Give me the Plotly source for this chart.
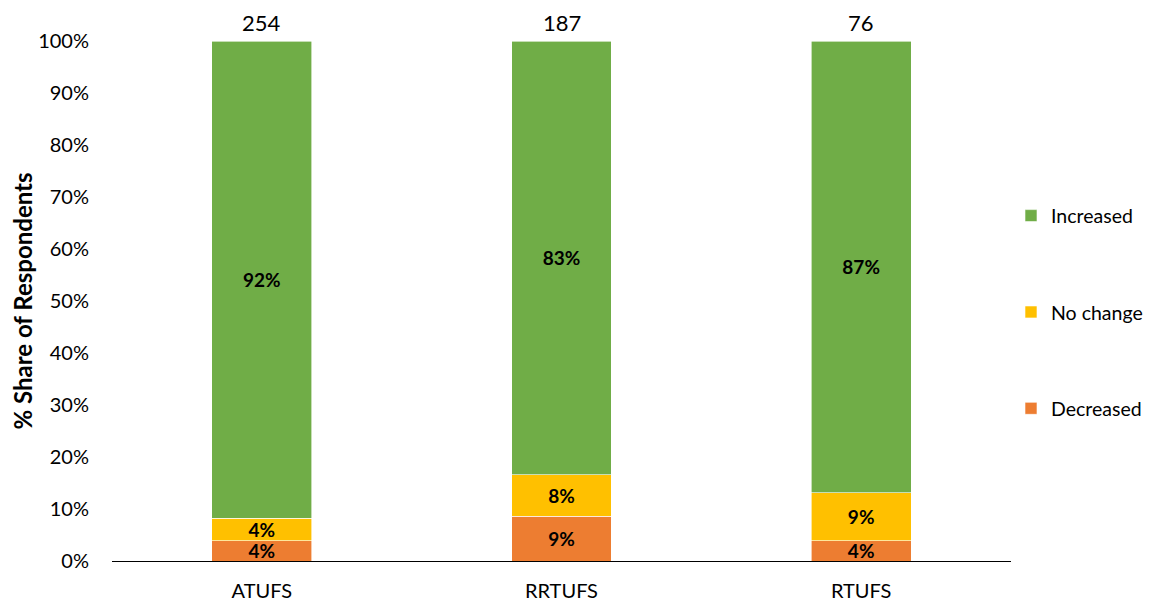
import plotly.graph_objects as go

categories = ["ATUFS", "RRTUFS", "RTUFS"]
totals = [254, 187, 76]
decreased = [3.9, 8.6, 3.9]
no_change = [4.3, 8.0, 9.2]
increased = [91.8, 83.4, 86.9]
dec_labels = ["4%", "9%", "4%"]
nc_labels = ["4%", "8%", "9%"]
inc_labels = ["92%", "83%", "87%"]

FONT = "Lato, 'Open Sans', sans-serif"

fig = go.Figure()
series = [
    ("Decreased", decreased, dec_labels, "#ED7D31", 3),
    ("No change", no_change, nc_labels, "#FFC000", 2),
    ("Increased", increased, inc_labels, "#70AD47", 1),
]
for name, vals, labels, color, rank in series:
    fig.add_trace(go.Bar(
        name=name, x=categories, y=vals, text=labels,
        texttemplate="<b>%{text}</b>", textposition="inside",
        insidetextanchor="middle", constraintext="none",
        textfont=dict(size=19, color="black", family=FONT),
        marker=dict(color=color, line=dict(color="white", width=0.6)),
        legendgroup=name, legendrank=rank, width=0.333,
    ))

for c, t in zip(categories, totals):
    fig.add_annotation(x=c, y=100, text=str(t), showarrow=False,
                       yanchor="bottom", yshift=3,
                       font=dict(size=22, color="black", family=FONT))

fig.update_layout(
    barmode="stack",
    width=1151, height=595,
    margin=dict(l=104, r=148, t=33, b=42, autoexpand=False),
    plot_bgcolor="white", paper_bgcolor="white",
    font=dict(family=FONT, color="black"),
    bargap=0.667,
    legend=dict(x=1.0, y=0.478, xanchor="left", yanchor="middle",
                traceorder="grouped", tracegroupgap=68,
                font=dict(size=19.5, family=FONT)),
    xaxis=dict(showline=True, linecolor="black", linewidth=1,
               ticks="outside", ticklen=12, tickcolor="rgba(0,0,0,0)",
               tickfont=dict(size=20), showgrid=False,
               range=[-0.5, 2.5]),
    yaxis=dict(range=[0, 100], tickvals=list(range(0, 101, 10)),
               ticktext=[f"{v}%" for v in range(0, 101, 10)],
               showgrid=False, zeroline=False, showline=False,
               tickfont=dict(size=20), ticks="outside", ticklen=18,
               tickcolor="rgba(0,0,0,0)",
               title=dict(text="<b>% Share of Respondents</b>",
                          font=dict(size=24), standoff=9)),
)

fig.write_html("out.html")
